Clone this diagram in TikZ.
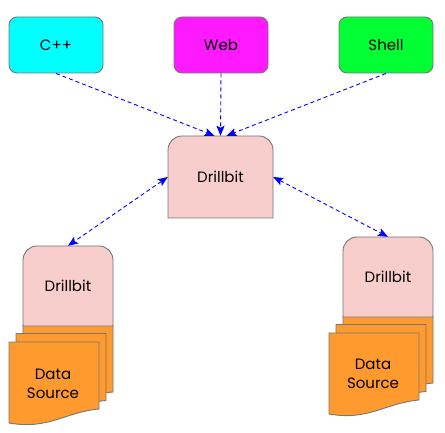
\documentclass[tikz,border=0pt]{standalone}
\usepackage{fontspec}
\setmainfont{Poppins}
\usetikzlibrary{arrows.meta}

\definecolor{cppcyan}{HTML}{00FFFF}
\definecolor{webpink}{HTML}{FF19FF}
\definecolor{shellgreen}{HTML}{00FF33}
\definecolor{bitpink}{HTML}{F8CECC}
\definecolor{srcorange}{HTML}{FF9A2E}
\definecolor{edgegrey}{HTML}{767676}

% drillbit: name, x, y (centre), width, height
\newcommand{\drillbit}[5]{\draw[hat] ({#2-#4/2}, {#3+#5/2}) -- ({#2-#4/2}, {#3-#5/2+14})
  arc[start angle=180, end angle=90, radius=14pt] -- ({#2+#4/2-14}, {#3-#5/2})
  arc[start angle=90, end angle=0, radius=14pt] -- ({#2+#4/2}, {#3+#5/2}) -- cycle;
\node[minimum width=#4, minimum height=#5] (#1) at (#2, #3) {Drillbit};}
% one data sheet, top left corner
\newcommand{\docpage}[2]{\draw[paper] (#1, #2) -- ++(90, 0) -- ++(0, 67)
  .. controls +(-34, 3) and +(40, 7) .. ++(-90, 14) -- cycle;}

\tikzset{
  client/.style={draw=edgegrey, line width=.9pt, rounded corners=8pt,
    minimum width=94, minimum height=56},
  hat/.style={draw=edgegrey, line width=.9pt, fill=bitpink},
  paper/.style={draw=edgegrey, line width=.9pt, fill=srcorange},
  link/.style={blue, line width=.9pt, dash pattern=on 4pt off 3pt,
    -{Stealth[length=10pt, width=8pt, inset=2pt]}},
  both/.style={link, {Stealth[length=10pt, width=8pt, inset=2pt]}-{Stealth[length=10pt, width=8pt, inset=2pt]}}
}

\begin{document}
\begin{tikzpicture}[x=1pt, y=-1pt, font=\fontsize{15}{19}\selectfont]
  \useasboundingbox (0, 0) rectangle (445, 433);

  \node[client, fill=cppcyan] (cpp) at (56, 45) {C++};
  \node[client, fill=webpink] (web) at (221, 45) {Web};
  \node[client, fill=shellgreen] (shell) at (386, 45) {Shell};

  \drillbit{hub}{220.5}{177}{105}{82}

  % left stack
  \foreach \k in {0, 1, 2} {\docpage{23-7*\k}{325+8.5*\k}}
  \drillbit{bitL}{68}{286}{90}{80}
  \node[align=center] (srcL) at (53, 384) {Data\\Source};

  % right stack
  \foreach \k in {0, 1, 2} {\docpage{343-7*\k}{316+8.5*\k}}
  \drillbit{bitR}{388}{277}{90}{80}
  \node[align=center] (srcR) at (373, 374) {Data\\Source};

  \draw[link] (cpp.south) -- ([xshift=-6pt]hub.north);
  \draw[link] (web.south) -- (hub.north);
  \draw[link] (shell.south) -- ([xshift=6pt]hub.north);
  \draw[both] (hub.west) -- (bitL.north);
  \draw[both] (hub.east) -- (bitR.north);
\end{tikzpicture}
\end{document}
